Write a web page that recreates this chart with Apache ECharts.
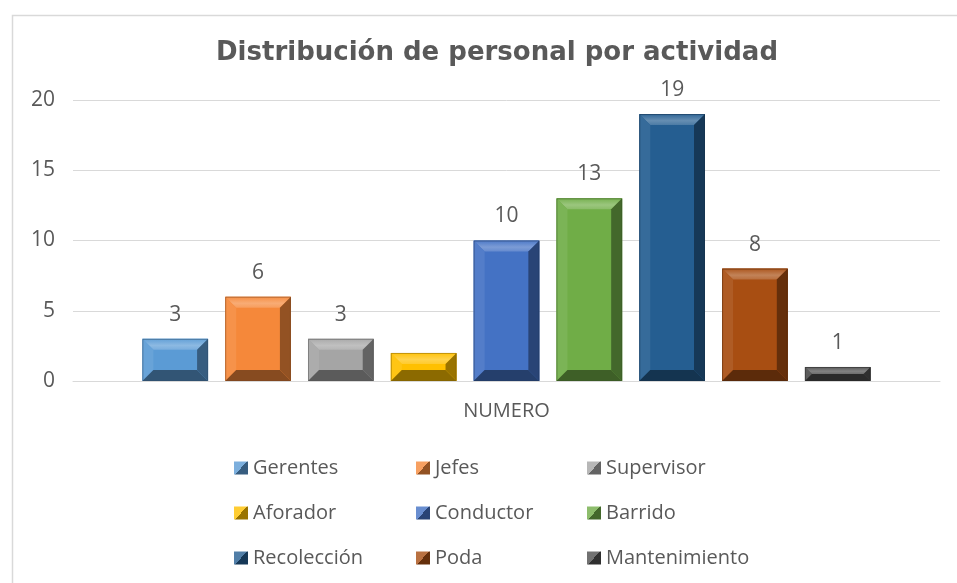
<!DOCTYPE html>
<html>
<head>
<meta charset="utf-8">
<script src="https://cdn.jsdelivr.net/npm/echarts@6/dist/echarts.min.js"></script>
<style>
  html, body { margin: 0; padding: 0; background: #fff; }
  #chart { width: 957px; height: 583px; }
</style>
</head>
<body>
<div id="chart"></div>
<script>
// datos del gráfico
const categories = ['NUMERO']
const seriesNames = ['Gerentes', 'Jefes', 'Supervisor', 'Aforador', 'Conductor', 'Barrido', 'Recolección', 'Poda', 'Mantenimiento']
const seriesValues = [3, 6, 3, 2, 10, 13, 19, 8, 1]
const yTicks = [0, 5, 10, 15, 20]
// colores base (tema Office)
const baseColors = ['#5B9BD5', '#F5883A', '#A5A5A5', '#FFC000', '#4472C4', '#70AD47', '#255E91', '#A84E12', '#4E4E4E']

const TEXT = '#595959'
const FONT = '"Open Sans", "Noto Sans", sans-serif'
const CAT_GAP = 0.16
const BAR_GAP = 0.26
const N = seriesNames.length

// mezcla un color hex con blanco (t>0) o negro (t<0)
const shade = (hex, t) => {
  const n = parseInt(hex.slice(1), 16)
  const c = [(n >> 16) & 255, (n >> 8) & 255, n & 255]
  const out = c.map(v => Math.round(t > 0 ? v + (255 - v) * t : v * (1 + t)))
  return 'rgb(' + out.join(',') + ')'
}

const chart = echarts.init(document.getElementById('chart'), null, { renderer: 'canvas' })

// barra con bisel estilo Excel
const makeRender = (idx) => (params, api) => {
  const val = api.value(1)
  const p0 = api.coord([api.value(0), 0])
  const p1 = api.coord([api.value(0), val])
  const band = api.size([1, 0])[0]
  const bw = band * (1 - CAT_GAP) / (N + (N - 1) * BAR_GAP)
  const groupW = N * bw + (N - 1) * BAR_GAP * bw
  const x0 = p0[0] - groupW / 2 + idx * bw * (1 + BAR_GAP)
  const x1 = x0 + bw
  const y0 = p1[1]
  const y1 = p0[1]
  const b = Math.min(11, (y1 - y0) / 2, bw / 2)
  const c = baseColors[idx]
  const poly = (points, fill) => ({ type: 'polygon', shape: { points }, style: { fill } })
  const children = [
    { type: 'rect', shape: { x: x0, y: y0, width: bw, height: y1 - y0 }, style: { fill: c } },
    poly([[x0, y0], [x1, y0], [x1 - b, y0 + b], [x0 + b, y0 + b]], new echarts.graphic.LinearGradient(0, 0, 0, 1, [
      { offset: 0, color: shade(c, 0.05) },
      { offset: 0.6, color: shade(c, 0.3) },
      { offset: 1, color: shade(c, 0.18) }
    ])),
    poly([[x0, y0], [x0 + b, y0 + b], [x0 + b, y1 - b], [x0, y1]], shade(c, 0.08)),
    poly([[x1, y0], [x1 - b, y0 + b], [x1 - b, y1 - b], [x1, y1]], shade(c, -0.4)),
    poly([[x0, y1], [x1, y1], [x1 - b, y1 - b], [x0 + b, y1 - b]], shade(c, -0.45)),
    { type: 'rect', shape: { x: x0 + 0.5, y: y0 + 0.5, width: bw - 1, height: y1 - y0 - 1 },
      style: { fill: null, stroke: shade(c, -0.5), lineWidth: 1, opacity: 0.5 } }
  ]
  if (seriesNames[idx] !== 'Aforador') {
    children.push({
      type: 'text',
      style: {
        text: String(val), x: (x0 + x1) / 2, y: y0 - 24,
        textAlign: 'center', textVerticalAlign: 'middle',
        fill: TEXT, fontSize: 21, fontFamily: FONT
      }
    })
  }
  return { type: 'group', children }
}

const series = seriesNames.map((name, i) => ({
  name,
  type: 'custom',
  renderItem: makeRender(i),
  encode: { x: 0, y: 1 },
  itemStyle: {
    color: new echarts.graphic.LinearGradient(0, 0, 1, 1, [
      { offset: 0, color: shade(baseColors[i], 0.2) },
      { offset: 0.5, color: shade(baseColors[i], 0.2) },
      { offset: 0.5, color: shade(baseColors[i], -0.4) },
      { offset: 1, color: shade(baseColors[i], -0.4) }
    ])
  },
  data: [[0, seriesValues[i]]]
}))

// leyenda en 3 columnas
const legendCols = [[0, 3, 6], [1, 4, 7], [2, 5, 8]]
const legendLeft = [229, 411, 582]
const legend = legendCols.map((col, k) => ({
  orient: 'vertical',
  left: legendLeft[k],
  top: 452,
  itemWidth: 14,
  itemHeight: 13,
  itemGap: 23,
  icon: 'rect',
  selectedMode: false,
  data: col.map(i => seriesNames[i]),
  textStyle: { color: TEXT, fontSize: 20, fontFamily: FONT, lineHeight: 22, padding: [0, 0, 0, 0] }
}))

const option = {
  animation: false,
  backgroundColor: '#fff',
  graphic: [{
    type: 'rect', left: 10, top: 13,
    shape: { width: 960, height: 600 },
    style: { fill: null, stroke: '#d9d9d9', lineWidth: 1.5 }
  }],
  title: {
    text: 'Distribución de personal por actividad',
    left: 492, top: 35, textAlign: 'center',
    textStyle: { color: TEXT, fontSize: 26, fontWeight: 'bold', fontFamily: '"DejaVu Sans", sans-serif' }
  },
  grid: { left: 73, right: 17, top: 100, bottom: 202, containLabel: false },
  legend,
  xAxis: {
    type: 'category',
    data: categories,
    axisLine: { show: true, lineStyle: { color: '#d9d9d9', width: 1 } },
    axisTick: { show: false },
    axisLabel: { color: TEXT, fontSize: 20, fontFamily: FONT, margin: 20 }
  },
  yAxis: {
    type: 'value',
    min: yTicks[0],
    max: yTicks[yTicks.length - 1],
    interval: yTicks[1] - yTicks[0],
    axisLine: { show: false },
    axisTick: { show: false },
    axisLabel: { color: TEXT, fontSize: 21, fontFamily: FONT, margin: 18 },
    splitLine: { lineStyle: { color: '#d9d9d9', width: 1 } }
  },
  series
}

chart.setOption(option)
</script>
</body>
</html>
